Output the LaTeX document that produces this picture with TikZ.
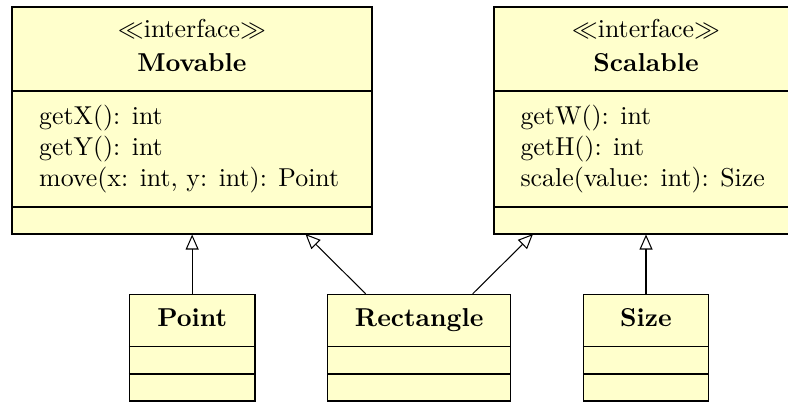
\documentclass[tikz,border=0pt]{standalone}
\usetikzlibrary{arrows.meta,fit}
\definecolor{umlyellow}{RGB}{255,255,204}
\begin{document}
\begin{tikzpicture}[x=0.3867pt,y=-0.3867pt,
  cls/.style={draw=black, fill=umlyellow, line width=0.4pt, inner sep=0pt},
  sepline/.style={line width=0.4pt},
  inh/.style={-{Triangle[open,length=5.8pt,width=5pt]}, line width=0.4pt},
  ttl/.style={anchor=base, inner sep=0pt},
  attr/.style={anchor=base west, inner sep=0pt}]
\useasboundingbox (0,0) rectangle (788,402);
\clip (0,0) rectangle (788,402);
% Movable
\node[cls, fit={(12,7)(372,234)}] (movable) {};
\draw[sepline] (movable.west |- 0,91) -- (movable.east |- 0,91);
\draw[sepline] (movable.west |- 0,207) -- (movable.east |- 0,207);
\node[ttl] (movst) at (192,38) {$\ll$interface$\gg$};
\node[ttl] (movname) at (192,72) {\textbf{Movable}};
\node[attr] (m1) at (38.7,124.3) {getX(): int};
\node[attr] (m2) at (38.7,155.7) {getY(): int};
\node[attr] (m3) at (38.7,186.7) {move(x: int, y: int): Point};
% Scalable
\node[cls, fit={(494,7)(798,234)}] (scalable) {};
\draw[sepline] (scalable.west |- 0,91) -- (scalable.east |- 0,91);
\draw[sepline] (scalable.west |- 0,207) -- (scalable.east |- 0,207);
\node[ttl] (scast) at (646,38) {$\ll$interface$\gg$};
\node[ttl] (scaname) at (646,72) {\textbf{Scalable}};
\node[attr] (s1) at (520,124.3) {getW(): int};
\node[attr] (s2) at (520,155.7) {getH(): int};
\node[attr] (s3) at (520,186.7) {scale(value: int): Size};
% Point
\node[cls, fit={(129.3,294.3)(255,401)}] (point) {};
\draw[sepline] (point.west |- 0,346.7) -- (point.east |- 0,346.7);
\draw[sepline] (point.west |- 0,374) -- (point.east |- 0,374);
\node[ttl] (pointname) at (192.2,326.7) {\textbf{Point}};
% Rectangle
\node[cls, fit={(327.7,294.3)(510.7,401)}] (rect) {};
\draw[sepline] (rect.west |- 0,346.7) -- (rect.east |- 0,346.7);
\draw[sepline] (rect.west |- 0,374) -- (rect.east |- 0,374);
\node[ttl] (rectname) at (419.2,326.7) {\textbf{Rectangle}};
% Size
\node[cls, fit={(583.3,294.3)(708.7,401)}] (size) {};
\draw[sepline] (size.west |- 0,346.7) -- (size.east |- 0,346.7);
\draw[sepline] (size.west |- 0,374) -- (size.east |- 0,374);
\node[ttl] (sizename) at (646,326.7) {\textbf{Size}};
% connectors
\coordinate (mt) at (305.4,234);
\coordinate (st) at (533,234);
\draw[inh] (point.north) -- (point.north |- movable.south);
\draw[inh] ([shift={(-53.5,0)}]rect.north) -- (mt);
\draw[inh] ([shift={(53.5,0)}]rect.north) -- (st);
\draw[inh] (size.north) -- (size.north |- scalable.south);
\end{tikzpicture}
\end{document}
